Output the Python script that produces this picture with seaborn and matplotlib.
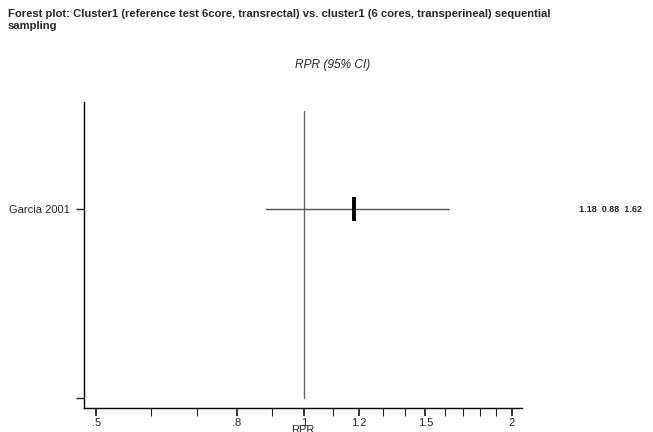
import matplotlib
matplotlib.use("Agg")
import matplotlib.pyplot as plt
import seaborn as sns
import pandas as pd
from matplotlib.ticker import FixedLocator, NullFormatter
from matplotlib.transforms import blended_transform_factory

# Data
studies = ["Garcia 2001"]
rpr = [1.18]
ci_low = [0.88]
ci_high = [1.62]
major_ticks = [0.5, 0.8, 1.0, 1.2, 1.5, 2.0]
major_labels = [".5", ".8", "1", "1.2", "1.5", "2"]
minor_ticks = [0.6, 0.7, 0.9, 1.1, 1.3, 1.4, 1.6, 1.7, 1.8, 1.9]
title = "Forest plot: Cluster1 (reference test 6core, transrectal) vs. cluster1 (6 cores, transperineal) sequential\nsampling"

sns.set_style("ticks")
plt.rcParams["font.family"] = ["Liberation Sans", "DejaVu Sans"]

df = pd.DataFrame({"study": studies, "rpr": rpr, "lo": ci_low, "hi": ci_high})
df["y"] = [1.0]

fig = plt.figure(figsize=(6.53, 4.32), dpi=100)
ax = fig.add_axes([84/653, 24/432, (522-84)/653, (408-102)/432])

# reference line
ax.plot([1, 1], [0, 1.52], color="#666666", lw=1.0, zorder=1)

trans = blended_transform_factory(fig.transFigure, ax.transData)
for _, r in df.iterrows():
    ax.plot([r["lo"], r["hi"]], [r["y"], r["y"]], color="#555555", lw=1.0, zorder=2)
    ax.text(579/653, r["y"], f"{r['rpr']:.2f}  {r['lo']:.2f}  {r['hi']:.2f}",
            transform=trans, ha="left", va="center",
            fontsize=6.5, fontweight="bold", clip_on=False)

sns.scatterplot(data=df, x="rpr", y="y", marker="|", s=300, linewidth=2.8,
                color="black", ax=ax, zorder=3, legend=False)

ax.set_xscale("log")
ax.set_xlim(0.48, 2.07)
ax.set_ylim(-0.053, 1.57)
ax.xaxis.set_major_locator(FixedLocator(major_ticks))
ax.set_xticklabels(major_labels)
ax.xaxis.set_minor_locator(FixedLocator(minor_ticks))
ax.xaxis.set_minor_formatter(NullFormatter())
ax.set_yticks([0, 1])
ax.set_yticklabels(["", "Garcia 2001"])

ax.tick_params(axis="x", which="major", direction="out", length=6, width=1.3,
               labelsize=8, pad=1)
ax.tick_params(axis="x", which="minor", direction="out", length=6, width=0.8)
ax.tick_params(axis="y", direction="out", length=6, width=1.0, labelsize=8, pad=4)

for s in ["top", "right"]:
    ax.spines[s].set_visible(False)
for s in ["left", "bottom"]:
    ax.spines[s].set_linewidth(1.0)
    ax.spines[s].set_color("black")

ax.set_xlabel("RPR", fontsize=8, labelpad=-2)
ax.set_ylabel("")

fig.text(8/653, 1 - 9/432, title, ha="left", va="top", fontsize=8.1,
         fontweight="bold", linespacing=1.2)
fig.text(333/653, 1 - 65/432, "RPR (95% CI)", ha="center", va="center",
         fontsize=8.6, fontstyle="italic")

fig.savefig("out.png", dpi=100)
